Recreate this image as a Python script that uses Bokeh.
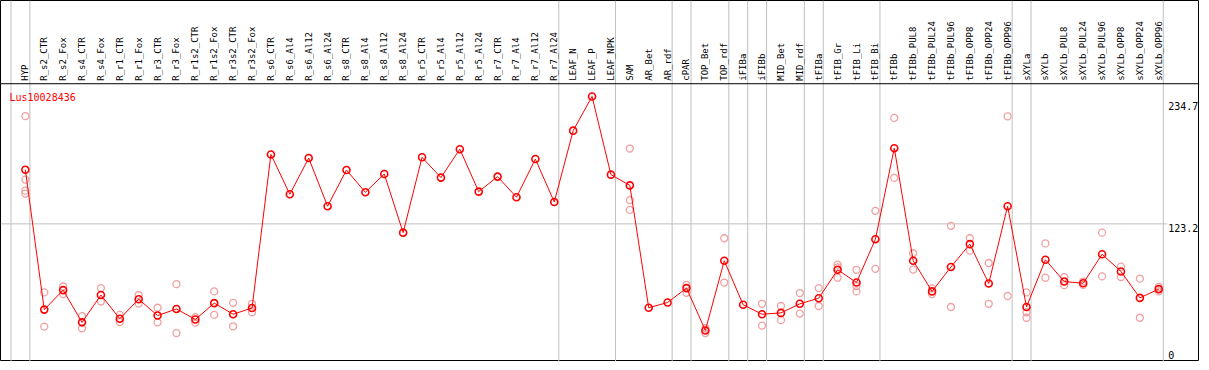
import math
from bokeh.plotting import figure
from bokeh.models import Range1d, Span
from bokeh.embed import file_html
from bokeh.resources import INLINE
from bokeh.core.properties import value

gene = "Lus10028436"

categories = [
    "HYP", "R_s2_CTR", "R_s2_Fox", "R_s4_CTR", "R_s4_Fox", "R_r1_CTR", "R_r1_Fox",
    "R_r3_CTR", "R_r3_Fox", "R_r1s2_CTR", "R_r1s2_Fox", "R_r3s2_CTR", "R_r3s2_Fox",
    "R_s6_CTR", "R_s6_Al4", "R_s6_Al12", "R_s6_Al24", "R_s8_CTR", "R_s8_Al4",
    "R_s8_Al12", "R_s8_Al24", "R_r5_CTR", "R_r5_Al4", "R_r5_Al12", "R_r5_Al24",
    "R_r7_CTR", "R_r7_Al4", "R_r7_Al12", "R_r7_Al24", "LEAF_N", "LEAF_P", "LEAF_NPK",
    "SAM", "AR_Bet", "AR_rdf", "cPAR", "TOP_Bet", "TOP_rdf", "iFIBa", "iFIBb",
    "MID_Bet", "MID_rdf", "tFIBa", "tFIB_Gr", "tFIB_Li", "tFIB_Bi", "tFIBb",
    "tFIBb_PUL8", "tFIBb_PUL24", "tFIBb_PUL96", "tFIBb_OPP8", "tFIBb_OPP24",
    "tFIBb_OPP96", "sXYLa", "sXYLb", "sXYLb_PUL8", "sXYLb_PUL24", "sXYLb_PUL96",
    "sXYLb_OPP8", "sXYLb_OPP24", "sXYLb_OPP96",
]

means = [
    172.5, 45.0, 62.8, 33.4, 58.3, 36.7, 54.5, 39.6, 45.6, 36.0, 50.9, 40.8, 46.5,
    186.5, 150.2, 183.2, 139.3, 172.3, 152.0, 168.7, 115.2, 183.9, 165.4, 191.3,
    152.6, 166.3, 147.5, 182.3, 143.1, 208.2, 239.4, 168.1,
    158.3, 46.7, 51.5, 64.6, 26.0, 89.6, 49.4, 40.8, 42.0, 50.3, 55.4, 81.3, 69.7,
    109.2, 192.2, 89.6, 61.6, 83.9, 104.7, 68.8, 139.3, 47.4, 90.5, 70.6, 69.0,
    95.5, 79.8, 55.7, 63.7,
]

replicates = [
    [221.4, 163.6, 153.5, 150.8], [60.7, 29.5], [66.1, 59.2], [39.0, 28.0],
    [64.6, 52.4], [40.2, 33.6], [58.3, 50.6], [46.7, 33.4], [68.2, 23.6],
    [38.1, 33.1], [61.6, 40.2], [51.2, 29.8], [50.3, 42.6],
    [], [], [], [], [], [], [], [], [], [], [], [], [], [], [], [], [], [], [],
    [191.9, 144.9, 135.9], [], [], [67.5, 60.4], [28.0, 23.6], [110.1, 69.7],
    [], [50.3, 30.4], [48.3, 35.4], [60.1, 41.4], [64.6, 48.3],
    [86.0, 83.6, 74.1], [81.3, 66.4, 61.6], [135.1, 82.2], [219.8, 165.1],
    [96.4, 81.5], [64.3, 59.2], [121.4, 47.4], [110.1, 98.8], [87.5, 50.3],
    [221.3, 57.4], [60.7, 42.6, 37.6], [105.4, 74.1], [74.7, 67.3], [70.6, 67.5],
    [115.2, 75.3], [84.2, 74.7], [73.2, 37.6], [65.7, 61.6],
]

tick_values = [234.7, 123.2, 0]
grid_value = 123.2
separators_after = [-1, 0, 28, 31, 34, 35, 37, 38, 39, 41, 42, 45, 52, 53, 60]

# layout (data units)
W, H = 1199, 361
x_lo, x_hi = -1.316, 62.158
y_lo, y_hi = -2.32, 326.9
header_y = 251.0
label_base = 253.7
tick_x = 60.5
gene_x, gene_y = -0.84, 243.9

p = figure(width=W, height=H, x_range=Range1d(x_lo, x_hi), y_range=Range1d(y_lo, y_hi),
           output_backend="svg", toolbar_location=None, min_border=0,
           x_axis_type=None, y_axis_type=None)
p.outline_line_color = "black"
p.outline_line_width = 1
p.background_fill_color = "white"
p.border_fill_color = "white"

idx = list(range(len(categories)))

# separators
sx = [s + 0.24 for s in separators_after]
p.segment(x0=sx, y0=[y_lo] * len(sx), x1=sx, y1=[y_hi] * len(sx),
          line_color="#c0c0c0", line_width=1)

# horizontal grid line
p.segment(x0=[x_lo], y0=[grid_value], x1=[tick_x - 0.05], y1=[grid_value],
          line_color="#c0c0c0", line_width=1)

# header separator
p.add_layout(Span(location=header_y, dimension="width", line_color="black", line_width=1))

# category labels
p.text(x=idx, y=[label_base] * len(idx), text=categories, angle=math.pi / 2,
       text_align="left", text_baseline="middle", text_color="black",
       text_font=value("DejaVu Sans Mono"), text_font_size="9px")

# replicates
rx, ry = [], []
for i, reps in enumerate(replicates):
    for r in reps:
        rx.append(i)
        ry.append(r)
p.scatter(rx, ry, marker="circle", size=7, fill_color=None,
          line_color="#f0a0a0", line_width=1.3)

# mean line and markers
p.line(idx, means, line_color="red", line_width=1)
p.scatter(idx, means, marker="circle", size=7, fill_color=None,
          line_color="red", line_width=1.6)

# gene name
p.text(x=[gene_x], y=[gene_y], text=[gene], text_color="red", text_align="left",
       text_baseline="top", text_font=value("DejaVu Sans Mono"), text_font_size="10px")

# right value labels
min_label_y = y_lo + 9.8
ty = [max(v, min_label_y) for v in tick_values]
p.text(x=[tick_x] * len(tick_values), y=ty, text=[str(v) for v in tick_values],
       text_color="black", text_align="left", text_baseline="top",
       text_font=value("DejaVu Sans Mono"), text_font_size="10px")

open("out.html", "w").write(file_html(p, INLINE))
